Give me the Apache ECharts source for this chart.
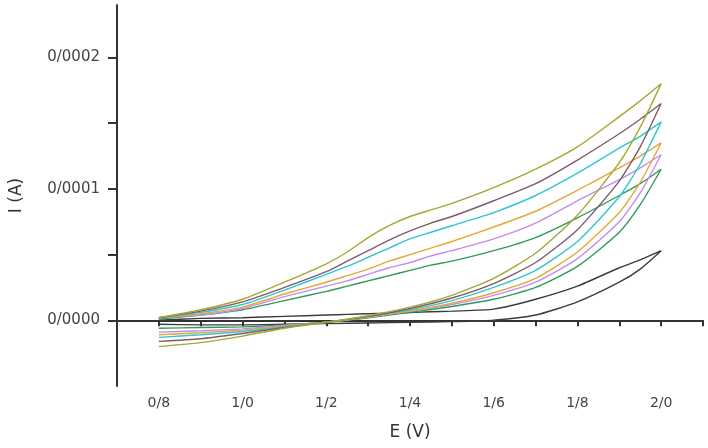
<!DOCTYPE html>
<html>
<head>
<meta charset="utf-8">
<script src="https://cdn.jsdelivr.net/npm/echarts@6/dist/echarts.min.js"></script>
<style>
html,body{margin:0;padding:0;background:#fff;}
#chart{width:708px;height:448px;}
</style>
</head>
<body>
<div id="chart"></div>
<script>
// Potential grids (V)
const lowerE = [0.8, 0.9, 1.0, 1.1, 1.2, 1.3, 1.4, 1.5, 1.6, 1.7, 1.8, 1.9, 1.95, 2.0];
const upperE = [0.8, 0.9, 1.0, 1.1, 1.2, 1.25, 1.3, 1.35, 1.4, 1.45, 1.5, 1.6, 1.7, 1.8, 1.9, 1.95, 2.0];

// Currents in microamps (x1e-6 A), forward (lower) branches
const blackLower  = [-3, -3.5, -3.5, -3, -2.5, -2, -1.5, -1, 0, 4, 14, 29, 39, 53];
const greenLower  = [-6, -5.5, -5, -3.5, -1.5, 2, 6, 10.5, 16, 25, 41, 67, 88, 115];
const violetLower = [-9, -8, -6.5, -4, -1.5, 2.5, 7, 12, 19, 29, 47, 75, 97, 126];
const orangeLower = [-11, -9.5, -7.5, -4.5, -1.5, 2.5, 7, 13, 21, 32, 52, 82, 105, 135];
const cyanLower   = [-13, -11, -8.5, -5, -1.5, 3, 8, 15, 25, 38, 60, 94, 119, 151];
const maroonLower = [-16, -14, -10, -5.5, -1.5, 3, 9, 17, 28, 44, 69, 106, 132, 165];
const oliveLower  = [-20, -17, -12, -6, -1.5, 3.5, 10, 19, 32, 51, 80, 120, 147, 180];

// Reverse (upper) branches
const blackUpper  = [0, 1.5, 2, 3, 4, 4.5, 5, 5.5, 6, 6.5, 7, 8.5, 16, 26, 40, 46, 53];
const greenUpper  = [1, 4, 8, 15, 22, 26, 30, 34, 38, 42, 45, 53, 63, 78, 95, 104, 115];
const violetUpper = [2, 4, 9, 18, 26, 30, 35, 40, 44, 49, 53, 62, 74, 91, 107, 116, 126];
const orangeUpper = [2, 5, 10, 20, 29, 34, 39, 45, 50, 55, 60, 71, 83, 99, 116, 125, 135];
const cyanUpper   = [2, 6, 12, 23, 35, 41, 48, 55, 62, 67, 72, 82, 95, 112, 131, 140, 151];
const maroonUpper = [2, 7, 14, 25, 37, 45, 53, 61, 68, 74, 79, 91, 104, 122, 142, 153, 165];
const oliveUpper  = [2, 8, 16, 29, 43, 52, 63, 72, 79, 84, 89, 101, 115, 132, 155, 167, 180];

// Axis ticks / labels
const xTickValues  = [0.8, 0.9, 1.0, 1.1, 1.2, 1.3, 1.4, 1.5, 1.6, 1.7, 1.8, 1.9, 2.0, 2.1];
const xLabelValues = [0.8, 1.0, 1.2, 1.4, 1.6, 1.8, 2.0];
const yTickValues  = [0, 0.00005, 0.0001, 0.00015, 0.0002];
const yLabelValues = [0, 0.0001, 0.0002];

function loop(lo, up) {
  const pts = [];
  for (let i = 0; i < lowerE.length; i++) pts.push([lowerE[i], lo[i] * 1e-6]);
  for (let i = upperE.length - 2; i >= 0; i--) pts.push([upperE[i], up[i] * 1e-6]);
  return pts;
}

const curves = [
  {color: '#3c3c3c', lo: blackLower,  up: blackUpper},
  {color: '#2f9a5c', lo: greenLower,  up: greenUpper},
  {color: '#c58af0', lo: violetLower, up: violetUpper},
  {color: '#e5a735', lo: orangeLower, up: orangeUpper},
  {color: '#2ec6d2', lo: cyanLower,   up: cyanUpper},
  {color: '#7f5a6e', lo: maroonLower, up: maroonUpper},
  {color: '#a7a632', lo: oliveLower,  up: oliveUpper}
];

const chart = echarts.init(document.getElementById('chart'), null, {renderer: 'canvas'});
const axisColor = '#333';
chart.setOption({
  animation: false,
  backgroundColor: '#fff',
  grid: {left: 111, right: 5, top: 5, bottom: 62, containLabel: false},
  xAxis: {
    type: 'value', min: 0.7, max: 2.1,
    name: 'E (V)', nameLocation: 'middle', nameGap: 38,
    nameTextStyle: {fontSize: 17, color: '#333', fontFamily: 'DejaVu Sans'},
    axisLine: {lineStyle: {color: axisColor, width: 2}},
    axisTick: {show: true, customValues: xTickValues, length: 6, lineStyle: {color: axisColor, width: 2}},
    axisLabel: {customValues: xLabelValues, margin: 10, fontSize: 14, color: '#444', fontFamily: 'DejaVu Sans',
      formatter: v => v.toFixed(1).replace('.', '/')},
    splitLine: {show: false}
  },
  yAxis: {
    type: 'value', min: -0.00005, max: 0.00024,
    name: 'I (A)', nameLocation: 'middle', nameGap: 92,
    nameTextStyle: {fontSize: 17, color: '#333', fontFamily: 'DejaVu Sans'},
    axisLine: {lineStyle: {color: axisColor, width: 2}},
    axisTick: {show: true, customValues: yTickValues, length: 9, lineStyle: {color: axisColor, width: 2}},
    axisLabel: {customValues: yLabelValues, margin: 17, fontSize: 15, color: '#444', fontFamily: 'DejaVu Sans',
      formatter: v => v.toFixed(4).replace('.', '/')},
    splitLine: {show: false}
  },
  series: curves.map(c => ({
    type: 'line',
    data: loop(c.lo, c.up),
    showSymbol: false,
    smooth: 0.2,
    lineStyle: {color: c.color, width: 1.4},
    itemStyle: {color: c.color}
  }))
});
</script>
</body>
</html>
